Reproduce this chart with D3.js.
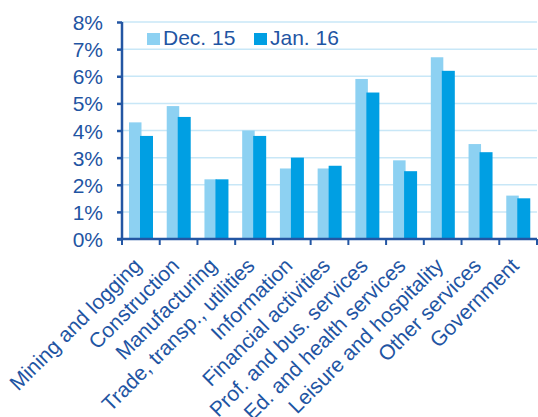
<!DOCTYPE html>
<html><head><meta charset="utf-8">
<script src="https://cdn.jsdelivr.net/npm/d3@7"></script>
<style>body{margin:0;background:#fff}svg{display:block}text{font-family:"Liberation Sans",Arial,sans-serif}</style>
</head><body><svg id="c" width="538" height="417"></svg>
<script>
const categories = ["Mining and logging","Construction","Manufacturing","Trade, transp., utilities","Information","Financial activities","Prof. and bus. services","Ed. and health services","Leisure and hospitality","Other services","Government"];
const seriesNames = ["Dec. 15","Jan. 16"];
const dec15 = [4.3,4.9,2.2,4.0,2.6,2.6,5.9,2.9,6.7,3.5,1.6];
const jan16 = [3.8,4.5,2.2,3.8,3.0,2.7,5.4,2.5,6.2,3.2,1.5];
const yTicks = [0,1,2,3,4,5,6,7,8];

const textCol = "#1f55a3", axisCol = "#2356a3", gridCol = "#c8e7f7";
const colors = ["#8dd1f2","#009fe3"];
const svg = d3.select("#c");
const x0 = 122, x1 = 537, yTop = 22, yBot = 239;
const x = d3.scaleBand().domain(categories).range([x0, x1]);
const y = d3.scaleLinear().domain([0, 8]).range([yBot, yTop]);

// gridlines
svg.append("g").selectAll("line").data(yTicks.filter(d=>d>0)).join("line")
  .attr("x1", x0).attr("x2", x1).attr("y1", d=>y(d)).attr("y2", d=>y(d))
  .attr("stroke", gridCol).attr("stroke-width", 1.5);

// bars
const bw = x.bandwidth();
const offs = [7, 18], widths = [12.5, 13];
[dec15, jan16].forEach((vals, si) => {
  svg.append("g").selectAll("rect").data(vals).join("rect")
    .attr("x", (d,i)=> x(categories[i]) + offs[si] * bw/37.73)
    .attr("width", widths[si] * bw/37.73)
    .attr("y", d=>y(d)).attr("height", d=>yBot - y(d))
    .attr("fill", colors[si]);
});

// y axis
const ya = svg.append("g").attr("transform", `translate(${x0},0)`)
  .call(d3.axisLeft(y).tickValues(yTicks).tickFormat(d=>d+"%").tickSize(5).tickPadding(14));
ya.select(".domain").attr("stroke", axisCol).attr("stroke-width", 2.5).attr("d", `M0,${yTop}V${yBot}`);
ya.selectAll(".tick line").attr("stroke", axisCol).attr("stroke-width", 2.5);
ya.selectAll(".tick text").attr("fill", textCol).style("font-size", "21px").attr("dy", "0.36em");

// x axis
const xa = svg.append("g").attr("transform", `translate(0,${yBot})`);
xa.append("line").attr("x1", x0-5).attr("x2", x1).attr("stroke", axisCol).attr("stroke-width", 2.5);
const bounds = categories.map(c=>x(c)).concat([x1]);
xa.selectAll("line.t").data(bounds).join("line").attr("class","t")
  .attr("x1", d=>d).attr("x2", d=>d).attr("y1", 0).attr("y2", 6)
  .attr("stroke", axisCol).attr("stroke-width", 2);
xa.selectAll("text").data(categories).join("text")
  .attr("transform", d=>`translate(${x(d)+bw/2+2},${28}) rotate(-45)`)
  .attr("text-anchor", "end").attr("fill", textCol).style("font-size", "21px")
  .text(d=>d);

// legend
const lg = svg.append("g");
const lx = [147, 254];
seriesNames.forEach((n, i) => {
  lg.append("rect").attr("x", lx[i]).attr("y", 33).attr("width", 13).attr("height", 12).attr("fill", colors[i]);
  lg.append("text").attr("x", lx[i]+16).attr("y", 45).attr("fill", textCol).style("font-size", "21px").text(n);
});
</script></body></html>
